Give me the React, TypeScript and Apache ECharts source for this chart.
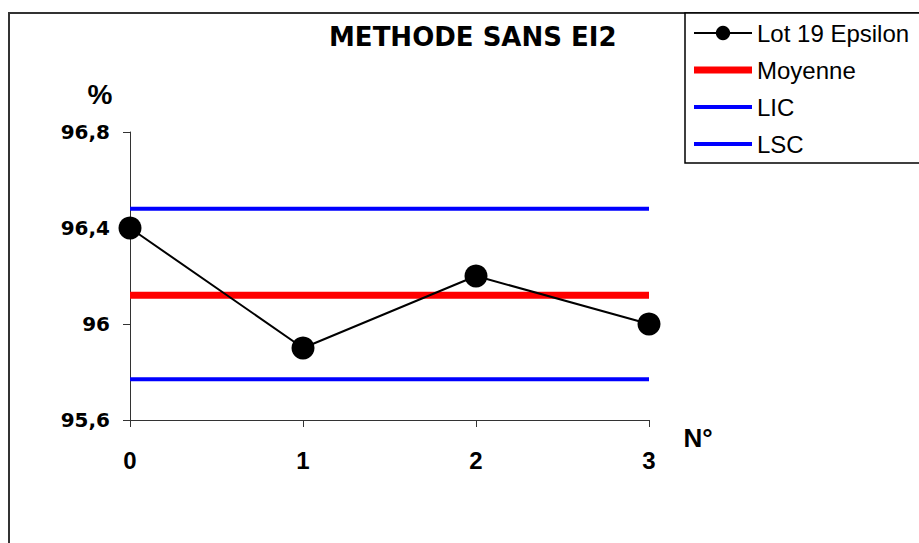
import React, { useEffect, useRef } from "react";
import * as echarts from "echarts";

const categories = [0, 1, 2, 3];
const lot19Epsilon = [96.4, 95.9, 96.2, 96.0];
const moyenne = [96.12, 96.12, 96.12, 96.12];
const lic = [95.77, 95.77, 95.77, 95.77];
const lsc = [96.48, 96.48, 96.48, 96.48];
const yMin = 95.6;
const yMax = 96.8;
const yInterval = 0.4;
const seriesNames = ["Lot 19 Epsilon", "Moyenne", "LIC", "LSC"];
const chartTitle = "METHODE SANS EI2";
const yTitle = "%";
const xTitle = "N°";

const toPairs = (vals: number[]) => categories.map((c, i) => [c, vals[i]]);

export default function App() {
  const ref = useRef<HTMLDivElement>(null);
  useEffect(() => {
    if (!ref.current) return;
    const chart = echarts.init(ref.current, null, { renderer: "svg" });
    const lineSeries = (name: string, vals: number[], color: string, width: number) => ({
      name,
      type: "line",
      data: toPairs(vals),
      symbol: "none",
      showSymbol: false,
      z: 3,
      lineStyle: { color, width },
      itemStyle: { color },
    });
    chart.setOption({
      animation: false,
      backgroundColor: "#ffffff",
      title: {
        text: chartTitle,
        left: 329,
        top: 24,
        padding: 0,
        textStyle: { fontFamily: "DejaVu Sans", fontWeight: "bold", fontSize: 26, color: "#000" },
      },
      graphic: [
        {
          type: "rect",
          z: 0,
          silent: true,
          shape: { x: 9, y: 13, width: 1000, height: 600 },
          style: { fill: "none", stroke: "#333", lineWidth: 2 },
        },
        {
          type: "rect",
          z: 1,
          silent: true,
          shape: { x: 685, y: 13, width: 300, height: 150 },
          style: { fill: "#fff", stroke: "#000", lineWidth: 1.5 },
        },
        {
          type: "text",
          z: 5,
          x: 100,
          y: 94,
          style: {
            text: yTitle,
            fontFamily: "Liberation Sans",
            fontWeight: "bold",
            fontSize: 28,
            fill: "#000",
            align: "center",
            verticalAlign: "middle",
          },
        },
        {
          type: "text",
          z: 5,
          x: 698,
          y: 438,
          style: {
            text: xTitle,
            fontFamily: "Liberation Sans",
            fontWeight: "bold",
            fontSize: 26,
            fill: "#000",
            align: "center",
            verticalAlign: "middle",
          },
        },
      ],
      legend: {
        orient: "vertical",
        left: 693,
        top: 21,
        padding: 0,
        z: 10,
        itemWidth: 58,
        itemHeight: 18,
        itemGap: 13,
        data: [
          { name: seriesNames[0] },
          { name: seriesNames[1], icon: "path://M0 0H58V7H0Z" },
          { name: seriesNames[2], icon: "path://M0 0H58V4H0Z" },
          { name: seriesNames[3], icon: "path://M0 0H58V4H0Z" },
        ],
        textStyle: { fontFamily: "Liberation Sans", fontSize: 24, color: "#000", lineHeight: 24 },
      },
      grid: { left: 130, right: 270, top: 132, bottom: 123 },
      xAxis: {
        type: "value",
        min: 0,
        max: 3,
        interval: 1,
        splitLine: { show: false },
        axisLine: { lineStyle: { color: "#333", width: 1 } },
        axisTick: { show: true, length: 7, lineStyle: { color: "#333" } },
        axisLabel: {
          margin: 28,
          fontFamily: "Liberation Sans",
          fontWeight: "bold",
          fontSize: 24,
          color: "#000",
        },
      },
      yAxis: {
        type: "value",
        min: yMin,
        max: yMax,
        interval: yInterval,
        splitLine: { show: false },
        axisLine: { show: true, lineStyle: { color: "#333", width: 1 } },
        axisTick: { show: true, length: 7, lineStyle: { color: "#333" } },
        axisLabel: {
          margin: 20,
          fontFamily: "DejaVu Sans",
          fontWeight: "bold",
          fontSize: 20,
          color: "#000",
          formatter: (v: number) => String(+v.toFixed(1)).replace(".", ","),
        },
      },
      series: [
        {
          name: seriesNames[0],
          type: "line",
          data: toPairs(lot19Epsilon),
          symbol: "circle",
          symbolSize: 23,
          z: 5,
          lineStyle: { color: "#000", width: 2 },
          itemStyle: { color: "#000" },
        },
        lineSeries(seriesNames[1], moyenne, "#ff0000", 7),
        lineSeries(seriesNames[2], lic, "#0000ff", 4),
        lineSeries(seriesNames[3], lsc, "#0000ff", 4),
      ],
    });
    return () => chart.dispose();
  }, []);
  return (
    <div
      ref={ref}
      style={{ position: "fixed", left: 0, top: 0, width: 919, height: 543, background: "#fff" }}
    />
  );
}
